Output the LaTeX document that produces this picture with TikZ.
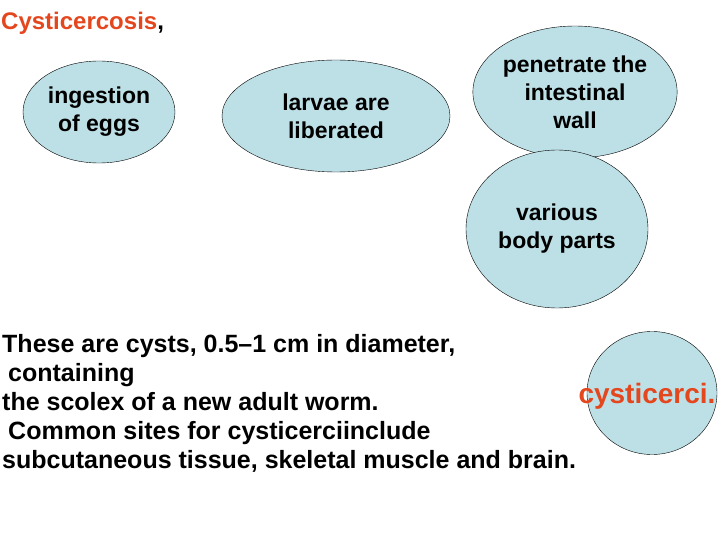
\documentclass[tikz,border=0pt]{standalone}
\usepackage{fontspec}
\setmainfont{Liberation Sans}
\usetikzlibrary{shapes.geometric}
\definecolor{cellblue}{RGB}{189,224,230}
\definecolor{titlered}{RGB}{228,70,30}
\tikzset{
  stage/.style={ellipse,draw=black,fill=cellblue,inner sep=0pt,align=center,font=\bfseries\fontsize{23}{28}\selectfont},
  note/.style={align=left,font=\bfseries\fontsize{25}{29}\selectfont,inner sep=0pt}
}
\begin{document}
\begin{tikzpicture}[x=1pt,y=-1pt]
  \useasboundingbox (0,0) rectangle (720,540);
  \node[anchor=north west,text=titlered,font=\bfseries\fontsize{24}{24}\selectfont,inner sep=0pt] (title) at (1,12) {Cysticercosis\textcolor{black}{,}};
  \node[stage,minimum width=152,minimum height=102] (eggs) at (99,112) {ingestion\\ of eggs};
  \node[stage,minimum width=228,minimum height=112] (larvae) at (336,116) {larvae are\\ liberated};
  \node[stage,minimum width=178,minimum height=132] (wall) at (575,92) {penetrate the\\ intestinal\\ wall};
  \node[stage,minimum width=182,minimum height=158] (parts) at (557,229) {various\\ body parts};
  \node[stage,minimum width=130,minimum height=123] (cyst) at (652,393) {};
  \node[text=titlered,font=\bfseries\fontsize{28}{28}\selectfont,inner sep=0pt] (cystlabel) at (647,396) {cysticerci.};
  \node[note,anchor=north west] (desc) at (2,334) {These are cysts, 0.5–1 cm in diameter,\\\hspace*{6pt}containing\\the scolex of a new adult worm.\\\hspace*{6pt}Common sites for cysticerciinclude\\subcutaneous tissue, skeletal muscle and brain.};
\end{tikzpicture}
\end{document}
